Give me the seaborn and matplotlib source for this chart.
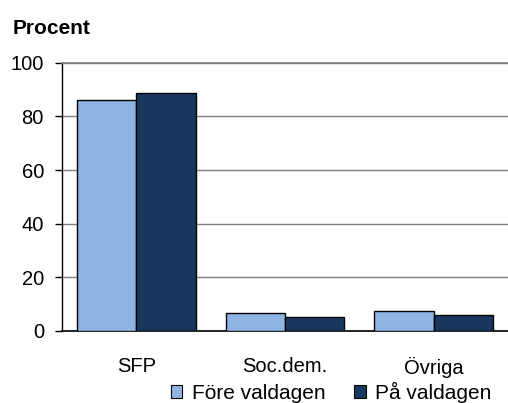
import matplotlib
matplotlib.use("Agg")
import matplotlib.pyplot as plt
import seaborn as sns
import pandas as pd

categories = ["SFP", "Soc.dem.", "Övriga"]
series_names = ["Före valdagen", "På valdagen"]
fore_values = [86, 6.6, 7.3]
pa_values = [88.8, 5.1, 5.8]
yticks = [0, 20, 40, 60, 80, 100]

df = pd.DataFrame({
    "Parti": categories * 2,
    "Serie": [series_names[0]] * 3 + [series_names[1]] * 3,
    "Procent": fore_values + pa_values,
})

sns.set_theme(style="white")
plt.rcParams['font.family'] = ['Liberation Sans', 'DejaVu Sans']
plt.rcParams['text.color'] = 'black'
plt.rcParams['xtick.color'] = 'black'
plt.rcParams['ytick.color'] = 'black'

fig = plt.figure(figsize=(5.08, 4.03), dpi=100)
ax = fig.add_axes([0.122, 0.179, 0.878, 0.665])

palette = ["#8EB4E3", "#17375E"]
sns.barplot(data=df, x="Parti", y="Procent", hue="Serie", palette=palette,
            edgecolor="black", linewidth=1.0, saturation=1, ax=ax, width=0.8,
            zorder=3)

ax.set_ylim(0, 100)
ax.set_yticks(yticks)
ax.set_yticklabels([str(t) for t in yticks], fontsize=14.5)
ax.set_xlim(-0.5, 2.5)
ax.tick_params(axis="x", labelsize=14.5, length=0, pad=19)
ax.tick_params(axis="y", left=True, length=5, width=1, color="black", pad=8)
ax.set_xlabel("")
ax.set_ylabel("")
ax.yaxis.grid(True, color="#808080", linewidth=1, zorder=0)
ax.spines["right"].set_visible(False)
ax.spines["top"].set_color("#808080")
ax.spines["left"].set_color("black")
ax.spines["bottom"].set_color("black")
ax.spines["left"].set_linewidth(1)
ax.spines["bottom"].set_linewidth(1.2)

fig.text(0.024, 0.93, "Procent", fontsize=15, fontweight="bold", ha="left", va="center")

ax.legend_.remove()
handles = [plt.Rectangle((0, 0), 1, 1, facecolor=c, edgecolor="black", linewidth=0.8) for c in palette]
fig.legend(handles, series_names, loc="center", bbox_to_anchor=(0.652, 0.026), ncol=2,
           frameon=False, fontsize=15, handlelength=0.55, handleheight=0.55,
           handletextpad=0.45, columnspacing=1.4, borderaxespad=0, borderpad=0)

fig.savefig("out.png", dpi=100)
